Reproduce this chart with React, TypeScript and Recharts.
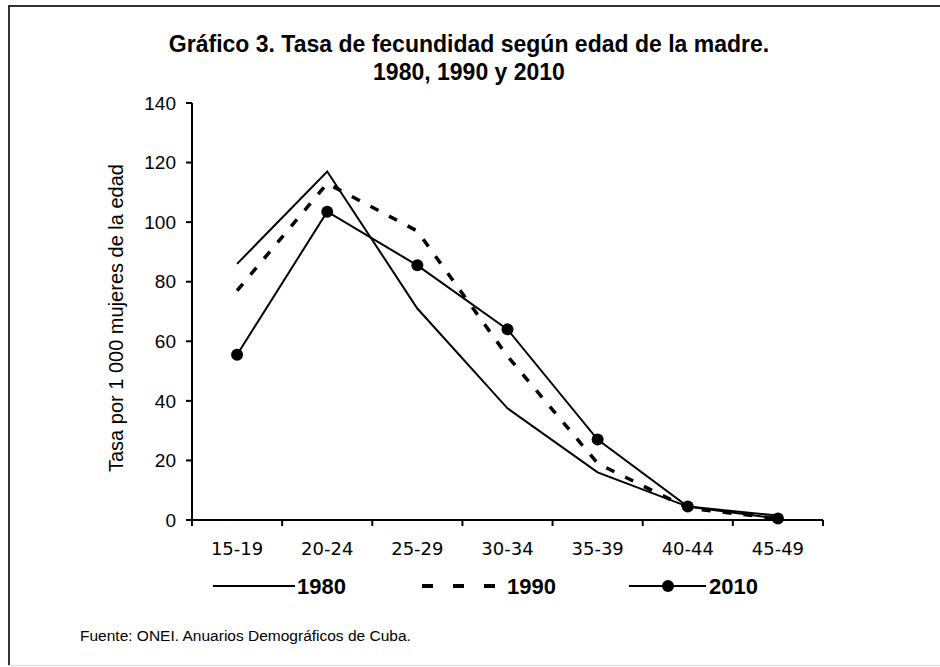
import { Line, LineChart, XAxis, YAxis } from 'recharts';

const ageGroups = ['15-19', '20-24', '25-29', '30-34', '35-39', '40-44', '45-49'];
const rate1980 = [86, 117, 71, 37.5, 16, 4.5, 1.5];
const rate1990 = [77, 113, 97, 55, 19, 4, 0.5];
const rate2010 = [55.5, 103.5, 85.5, 64, 27, 4.5, 0.5];
const seriesNames = ['1980', '1990', '2010'];
const yTicks = [0, 20, 40, 60, 80, 100, 120, 140];

const titleLines = [
	'Gráfico 3. Tasa de fecundidad según edad de la madre.',
	'1980, 1990 y 2010',
];
const yLabel = 'Tasa por 1 000 mujeres de la edad';
const source = 'Fuente: ONEI. Anuarios Demográficos de Cuba.';

const chartData = ageGroups.map((age, i) => ({
	age,
	r1980: rate1980[i],
	r1990: rate1990[i],
	r2010: rate2010[i],
}));

const ARIAL = '"Liberation Sans", Arial, sans-serif';
const TICK_SIZE = 6;
const TICK_MARGIN = 16;

// category labels centred in the band, tick marks on the band edges
function AgeTick(props: any) {
	const { x, y, payload, index, visibleTicksCount } = props;
	const half = payload?.offset ?? 45;
	const axisY = y - TICK_SIZE - TICK_MARGIN;
	const isLast = index === (visibleTicksCount ?? ageGroups.length) - 1;
	return (
		<g>
			<line x1={x - half} x2={x - half} y1={axisY} y2={axisY + TICK_SIZE} stroke="#000" strokeWidth={2} />
			{isLast && (
				<line x1={x + half} x2={x + half} y1={axisY} y2={axisY + TICK_SIZE} stroke="#000" strokeWidth={2} />
			)}
			<text x={x} y={y} dy="0.71em" textAnchor="middle" fill="#000" fontSize={18} fontFamily='"DejaVu Sans", sans-serif'>
				{payload.value}
			</text>
		</g>
	);
}

export default function App() {
	return (
		<div style={{ position: 'absolute', left: 0, top: 0, width: 940, height: 667, background: '#fff', overflow: 'hidden' }}>
			{titleLines.map((t, i) => (
				<div
					key={t}
					style={{
						position: 'absolute',
						left: 0,
						width: 938,
						top: 30 + i * 28,
						textAlign: 'center',
						fontFamily: ARIAL,
						fontWeight: 'bold',
						fontSize: 23,
						lineHeight: '28px',
					}}
				>
					{t}
				</div>
			))}
			<div
				style={{
					position: 'absolute',
					left: 116 - 200,
					top: 318 - 12,
					width: 400,
					height: 24,
					lineHeight: '24px',
					textAlign: 'center',
					transform: 'rotate(-90deg)',
					fontFamily: ARIAL,
					fontSize: 20,
				}}
			>
				{yLabel}
			</div>
			<div style={{ position: 'absolute', left: 0, top: 0 }}>
				<LineChart width={940} height={667} data={chartData} margin={{ top: 103, right: 117, left: 132, bottom: 117 }}>
					<XAxis
						dataKey="age"
						scale="band"
						interval={0}
						height={30}
						axisLine={{ stroke: '#000', strokeWidth: 2 }}
						tickLine={false}
						tickSize={TICK_SIZE}
						tickMargin={TICK_MARGIN}
						tick={<AgeTick />}
					/>
					<YAxis
						domain={[0, 140]}
						ticks={yTicks}
						width={60}
						axisLine={{ stroke: '#000', strokeWidth: 2 }}
						tickLine={{ stroke: '#000', strokeWidth: 2 }}
						tickSize={6}
						tickMargin={10}
						tick={{ fill: '#000', fontSize: 19, fontFamily: ARIAL }}
					/>
					<Line dataKey="r1980" name={seriesNames[0]} stroke="#000" strokeWidth={2} dot={false} isAnimationActive={false} />
					<Line
						dataKey="r1990"
						name={seriesNames[1]}
						stroke="#000"
						strokeWidth={3.5}
						strokeDasharray="9 12"
						dot={false}
						isAnimationActive={false}
					/>
					<Line
						dataKey="r2010"
						name={seriesNames[2]}
						stroke="#000"
						strokeWidth={2}
						dot={{ r: 6, fill: '#000', stroke: '#000', strokeWidth: 0 }}
						isAnimationActive={false}
					/>
				</LineChart>
			</div>
			<svg width={940} height={667} style={{ position: 'absolute', left: 0, top: 0, pointerEvents: 'none' }}>
				{/* frame */}
				<line x1={8} x2={940} y1={6} y2={6} stroke="#333" strokeWidth={2} />
				<line x1={9} x2={9} y1={5} y2={665} stroke="#333" strokeWidth={2} />
				<line x1={8} x2={940} y1={665.5} y2={665.5} stroke="#ddd" strokeWidth={1} />
				<g fontFamily={ARIAL} fontWeight="bold" fontSize={22} fill="#000">
					<line x1={213} x2={295} y1={586} y2={586} stroke="#000" strokeWidth={2} />
					<text x={297} y={586} dominantBaseline="central">{seriesNames[0]}</text>
					<line x1={422} x2={495} y1={586} y2={586} stroke="#000" strokeWidth={4} strokeDasharray="11 20" />
					<text x={507} y={586} dominantBaseline="central">{seriesNames[1]}</text>
					<line x1={629} x2={706} y1={586} y2={586} stroke="#000" strokeWidth={2} />
					<circle cx={668} cy={586} r={6} fill="#000" />
					<text x={709} y={586} dominantBaseline="central">{seriesNames[2]}</text>
				</g>
				<text x={80} y={635} dominantBaseline="central" fontFamily={ARIAL} fontSize={15.5} fill="#000">
					{source}
				</text>
			</svg>
		</div>
	);
}
